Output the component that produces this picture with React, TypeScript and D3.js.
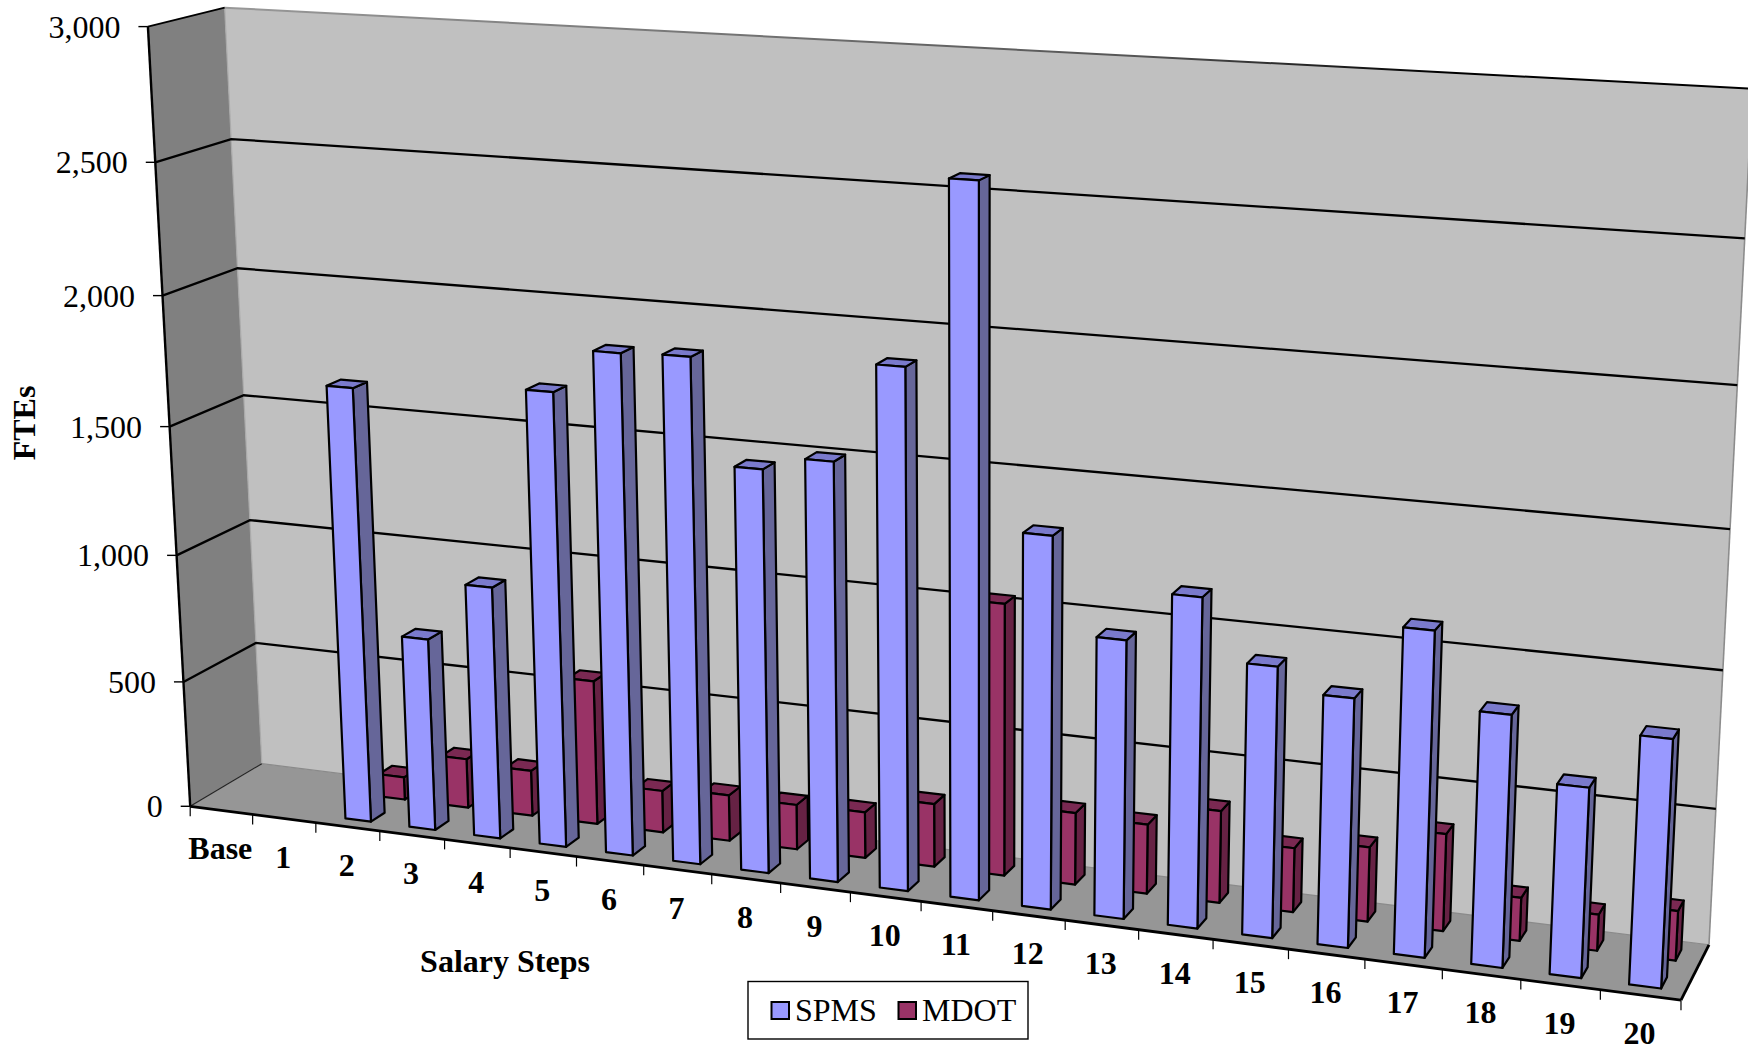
import React from "react";
import * as d3 from "d3";

const categories = ["Base","1","2","3","4","5","6","7","8","9","10","11","12","13","14","15","16","17","18","19","20"];
const seriesNames = ["SPMS","MDOT"];
const spms = [0,0,1689,750,978,1740,1905,1913,1524,1576,1941,2616,1382,1031,1214,993,909,1179,911,684,887];
const mdot = [0,0,90,195,180,566,164,179,174,178,243,1033,274,263,347,241,278,361,160,133,182];
const valueTicks = [0,500,1000,1500,2000,2500,3000];
const Y_MAX = 3000;

const FONT = "'Liberation Serif','Times New Roman',serif";

// camera fit: known box corners on the picture (x fraction, value fraction, depth fraction -> pixel)
const anchors: number[][] = [
  [0,0,0,190,805.7],[0,1,0,147.7,26.7],[0,0.5,0,170,426.7],
  [0,0,1,262,764],[0,1,1,225,7.3],[0,0.5,1,243.3,395.7],
  [1,0,1,1709,944.3],[1,1,1,1752,88.7],[1,2500/3000,1,1745,238.3],
  [1,0,0,1681,1000.7],
];
function fitCamera(pts: number[][]) {
  const A: number[][] = [];
  const B: number[] = [];
  for (const [X,Y,Z,u0,v0] of pts) {
    const u = u0/1000, v = v0/1000;
    A.push([X,Y,Z,1,0,0,0,0,-u*X,-u*Y,-u*Z]); B.push(u);
    A.push([0,0,0,0,X,Y,Z,1,-v*X,-v*Y,-v*Z]); B.push(v);
  }
  const n = 11;
  const M = d3.range(n).map(i => [
    ...d3.range(n).map(j => d3.sum(A, r => r[i]*r[j])),
    d3.sum(A, (r,k) => r[i]*B[k]),
  ]);
  for (let c=0;c<n;c++){
    let p=c; for(let r=c+1;r<n;r++) if(Math.abs(M[r][c])>Math.abs(M[p][c])) p=r;
    [M[c],M[p]]=[M[p],M[c]];
    for(let r=0;r<n;r++){ if(r===c) continue; const f=M[r][c]/M[c][c]; for(let k=c;k<=n;k++) M[r][k]-=f*M[c][k]; }
  }
  return M.map((r,i)=>r[n]/r[i]);
}
const P = fitCamera(anchors);
const project = (x:number,v:number,z:number): [number,number] => {
  const w = P[8]*x+P[9]*v+P[10]*z+1;
  return [1000*(P[0]*x+P[1]*v+P[2]*z+P[3])/w, 1000*(P[4]*x+P[5]*v+P[6]*z+P[7])/w];
};

const xBand = d3.scaleBand<string>().domain(categories).range([0,1]);
const zBand = d3.scaleBand<string>().domain(seriesNames).range([0,1]);
const vScale = d3.scaleLinear().domain([0,Y_MAX]).range([0,1]);
const BAR_FROM = 0.3, BAR_TO = 0.7;
const numFmt = d3.format(",");

const poly = (pts:[number,number][]) => pts.map(p=>p.map(n=>n.toFixed(2)).join(",")).join(" ");
const seg = (a:[number,number],b:[number,number]) => ({x1:a[0],y1:a[1],x2:b[0],y2:b[1]});

const colors: Record<string,{front:string,side:string,top:string}> = {
  SPMS:{front:"#9999FF",side:"#666699",top:"#7A7ACC"},
  MDOT:{front:"#993366",side:"#662244",top:"#7A2952"},
};

function Bars({name,values}:{name:string,values:number[]}){
  const c = colors[name];
  const z0 = zBand(name)! + zBand.bandwidth()*BAR_FROM;
  const z1 = zBand(name)! + zBand.bandwidth()*BAR_TO;
  return <g stroke="#000" strokeWidth={2.2} strokeLinejoin="round">
    {categories.map((cat,i)=>{
      if(!values[i]) return null;
      const x0 = xBand(cat)! + xBand.bandwidth()*BAR_FROM;
      const x1 = xBand(cat)! + xBand.bandwidth()*BAR_TO;
      const v = vScale(values[i]);
      return <g key={cat}>
        <polygon fill={c.side} points={poly([project(x1,0,z0),project(x1,0,z1),project(x1,v,z1),project(x1,v,z0)])}/>
        <polygon fill={c.top} points={poly([project(x0,v,z0),project(x1,v,z0),project(x1,v,z1),project(x0,v,z1)])}/>
        <polygon fill={c.front} points={poly([project(x0,0,z0),project(x1,0,z0),project(x1,v,z0),project(x0,v,z0)])}/>
      </g>;
    })}
  </g>;
}

export default function App(){
  const lineT = 1;
  return <svg width={1748} height={1050} viewBox="0 0 1748 1050"
    style={{position:"fixed",left:0,top:0,display:"block",background:"#fff"}} fontFamily={FONT}>
    <defs>
      <linearGradient id="topEdge" gradientUnits="userSpaceOnUse" x1={225} y1={0} x2={1748} y2={0}>
        <stop offset="0" stopColor="#999"/><stop offset="0.6" stopColor="#555"/><stop offset="0.8" stopColor="#000"/><stop offset="1" stopColor="#000"/>
      </linearGradient>
    </defs>
    {/* walls and floor */}
    <polygon fill="#808080" points={poly([project(0,0,0),project(0,lineT,0),project(0,lineT,1),project(0,0,1)])}/>
    <polygon fill="#C0C0C0" points={poly([project(0,0,1),project(0,lineT,1),project(1,lineT,1),project(1,0,1)])}/>
    <polygon fill="#969696" points={poly([project(0,0,0),project(0,0,1),project(1,0,1),project(1,0,0)])}/>
    <line {...seg(project(0,0,1),project(0,lineT,1))} stroke="#aaa" strokeWidth={1.2}/>
    <line {...seg(project(1,0,1),project(1,lineT,1))} stroke="#8c8c8c" strokeWidth={1.6}/>
    <line {...seg(project(0,0,1),project(1,0,1))} stroke="#8a8a8a" strokeWidth={1.2}/>
    <line {...seg(project(0,lineT,1),project(1,lineT,1))} stroke="url(#topEdge)" strokeWidth={2}/>
    <line {...seg(project(0,lineT,0),project(0,lineT,1))} stroke="#000" strokeWidth={1.8}/>
    <line {...seg(project(0,0,0),project(0,0,1))} stroke="#222" strokeWidth={1.2}/>
    {/* gridlines */}
    <g stroke="#000" strokeWidth={2.3} fill="none">
      {valueTicks.filter(v=>v>0&&v<Y_MAX).map(v=>{
        const t=vScale(v);
        return <polyline key={v} points={poly([project(0,t,0),project(0,t,1),project(1,t,1)])}/>;
      })}
    </g>
    {/* bars */}
    <Bars name="MDOT" values={mdot}/>
    <Bars name="SPMS" values={spms}/>
    {/* axes */}
    <g stroke="#000" fill="none">
      <line {...seg(project(0,0,0),project(0,1,0))} strokeWidth={2.4}/>
      <line {...seg(project(0,0,0),project(1,0,0))} strokeWidth={2.8}/>
      <line {...seg(project(1,0,0),project(1,0,1))} strokeWidth={2.8}/>
      {valueTicks.map(v=>{
        const [x,y]=project(0,vScale(v),0);
        return <line key={v} x1={x-9.5} x2={x} y1={y} y2={y} strokeWidth={1.4}/>;
      })}
      {d3.range(categories.length+1).map(k=>{
        const [x,y]=project(k/categories.length,0,0);
        return <line key={k} x1={x} x2={x} y1={y} y2={y+10} strokeWidth={1.2}/>;
      })}
    </g>
    {/* value labels */}
    <g fontSize={32} textAnchor="end" fill="#000">
      {valueTicks.map(v=>{
        const [x,y]=project(0,vScale(v),0);
        return <text key={v} x={x-27.5} y={y+11}>{numFmt(v)}</text>;
      })}
    </g>
    {/* category labels */}
    <g fontSize={32} fontWeight="bold" textAnchor="middle" fill="#000">
      {categories.map(c=>{
        const [x,y]=project(xBand(c)!+xBand.bandwidth()/2,0,0);
        return <text key={c} x={x-1} y={y+49}>{c}</text>;
      })}
    </g>
    {/* titles */}
    <text fontSize={32} fontWeight="bold" textAnchor="middle" transform="translate(35,423) rotate(-90)">FTEs</text>
    <text fontSize={32} fontWeight="bold" textAnchor="middle" x={505} y={972}>Salary Steps</text>
    {/* legend */}
    <rect x={748} y={981.5} width={280} height={57.5} fill="#fff" stroke="#000" strokeWidth={1.4}/>
    <rect x={771.5} y={1002} width={17.5} height={17} fill={colors.SPMS.front} stroke="#000" strokeWidth={2}/>
    <text x={795} y={1020.5} fontSize={32}>SPMS</text>
    <rect x={898.5} y={1002} width={17.5} height={17} fill={colors.MDOT.front} stroke="#000" strokeWidth={2}/>
    <text x={922} y={1020.5} fontSize={32}>MDOT</text>
  </svg>;
}
